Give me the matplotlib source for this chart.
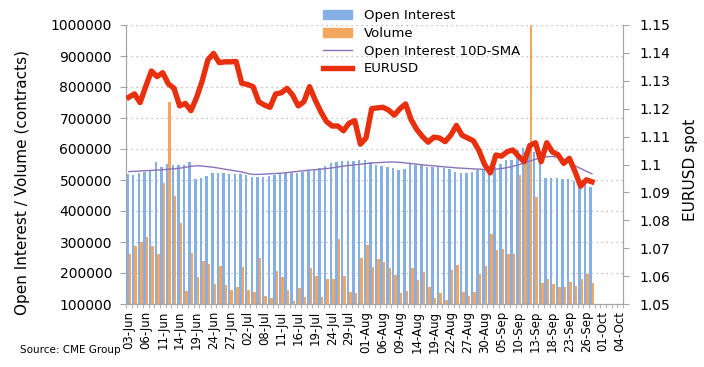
import matplotlib
matplotlib.use("Agg")
import matplotlib.pyplot as plt
from matplotlib.patches import Patch
from matplotlib.lines import Line2D
from matplotlib.ticker import FuncFormatter, MultipleLocator
import numpy as np

# business days 03-Jun .. 04-Oct (88 slots), data only up to 27-Sep
n_days = 88
tick_labels = ["03-Jun", "06-Jun", "11-Jun", "14-Jun", "19-Jun", "24-Jun", "27-Jun",
               "02-Jul", "08-Jul", "11-Jul", "16-Jul", "19-Jul", "24-Jul", "29-Jul",
               "01-Aug", "06-Aug", "09-Aug", "14-Aug", "19-Aug", "22-Aug", "27-Aug",
               "30-Aug", "05-Sep", "10-Sep", "13-Sep", "18-Sep", "23-Sep", "26-Sep",
               "01-Oct", "04-Oct"]

open_interest = [518000, 516000, 521000, 525000, 532000, 559000, 543000, 552000, 548000, 550000,
                 548000, 559000, 502000, 505000, 513000, 521000, 521000, 521000, 519000, 519000,
                 519000, 516000, 511000, 511000, 511000, 513000, 516000, 521000, 521000, 521000,
                 521000, 527000, 530000, 532000, 540000, 545000, 555000, 557000, 560000, 562000,
                 562000, 566000, 566000, 559000, 548000, 545000, 541000, 538000, 532000, 535000,
                 552000, 549000, 549000, 543000, 543000, 543000, 538000, 535000, 527000, 524000,
                 524000, 527000, 532000, 532000, 538000, 543000, 552000, 565000, 565000, 598000,
                 603000, 600000, 590000, 580000, 505000, 505000, 508000, 502000, 502000, 498000,
                 490000, 490000, 478000]

volume = [261000, 288000, 301000, 315000, 288000, 261000, 489000, 753000, 448000, 360000,
          143000, 263000, 186000, 240000, 229000, 163000, 222000, 160000, 146000, 156000,
          220000, 145000, 140000, 247000, 126000, 118000, 207000, 186000, 145000, 111000,
          153000, 122000, 215000, 190000, 124000, 180000, 180000, 311000, 190000, 140000,
          137000, 247000, 290000, 220000, 244000, 237000, 217000, 194000, 134000, 142000,
          215000, 177000, 204000, 154000, 118000, 134000, 113000, 210000, 226000, 140000,
          126000, 140000, 196000, 224000, 325000, 275000, 276000, 262000, 262000, 515000,
          590000, 1000000, 444000, 169000, 180000, 165000, 156000, 156000, 170000, 159000,
          180000, 196000, 167000]

oi_sma = [527000, 528000, 529000, 530000, 531000, 532000, 533000, 535000, 536000, 538000,
          541000, 544000, 546000, 545000, 543000, 541000, 538000, 535000, 532000, 529000,
          526000, 521000, 518000, 518000, 519000, 520000, 521000, 522000, 524000, 526000,
          528000, 530000, 532000, 533000, 535000, 537000, 539000, 542000, 545000, 547000,
          549000, 551000, 553000, 555000, 556000, 557000, 558000, 558000, 557000, 555000,
          553000, 551000, 549000, 547000, 546000, 544000, 542000, 541000, 539000, 538000,
          537000, 536000, 535000, 534000, 534000, 535000, 537000, 540000, 544000, 549000,
          555000, 561000, 567000, 572000, 575000, 576000, 573000, 566000, 557000, 546000,
          537000, 528000, 520000]

eurusd = [1.1241, 1.1253, 1.1222, 1.1280, 1.1335, 1.1315, 1.1329, 1.1289, 1.1273, 1.1210,
          1.1219, 1.1193, 1.1240, 1.1300, 1.1375, 1.1398, 1.1365, 1.1368, 1.1368, 1.1369,
          1.1291, 1.1287, 1.1279, 1.1225, 1.1213, 1.1205, 1.1253, 1.1257, 1.1273, 1.1249,
          1.1210, 1.1225, 1.1279, 1.1231, 1.1189, 1.1154, 1.1138, 1.1138, 1.1121, 1.1148,
          1.1157, 1.1073, 1.1095, 1.1200, 1.1203, 1.1205, 1.1195, 1.1177, 1.1200, 1.1217,
          1.1160, 1.1125, 1.1100, 1.1080, 1.1098, 1.1095, 1.1082, 1.1105, 1.1140, 1.1105,
          1.1095, 1.1085, 1.1050, 1.1000, 1.0970, 1.1034, 1.1030, 1.1046, 1.1052, 1.1030,
          1.1010, 1.1068, 1.1078, 1.1010, 1.1078, 1.1045, 1.1035, 1.1004, 1.1022, 1.0975,
          1.0922, 1.0945, 1.0938]

blue = "#86afe6"
orange = "#f2a65e"
purple = "#8b72b8"
red = "#e8300e"
grey = "#a6a6a6"

fig = plt.figure(figsize=(7.04, 3.67), dpi=100)
ax = fig.add_axes([126 / 704, 1 - 304 / 367, 497 / 704, 279 / 367])
ax2 = ax.twinx()

x = np.arange(len(open_interest))
w = 0.44
ax.bar(x - w / 2, open_interest, width=w, color=blue, zorder=2)
ax.bar(x + w / 2, volume, width=w, color=orange, zorder=3)
ax.plot(x, oi_sma, color=purple, lw=1.0, zorder=4)
ax2.plot(x, eurusd, color=red, lw=3.9, solid_joinstyle="round", zorder=5)

ax.set_xlim(-0.5, n_days - 0.5)
ax.set_ylim(100000, 1000000)
ax.yaxis.set_major_locator(MultipleLocator(100000))
ax.yaxis.set_major_formatter(FuncFormatter(lambda v, p: "%d" % v))
ax.grid(axis="y", linestyle=(0, (1, 3)), color="#b0b0b0", lw=0.9, zorder=0)
ax.set_axisbelow(True)

ax2.set_ylim(1.05, 1.15)
ax2.yaxis.set_major_locator(MultipleLocator(0.01))
ax2.yaxis.set_major_formatter(FuncFormatter(lambda v, p: "%g" % round(v, 2)))

ax.set_xticks(np.arange(0, n_days, 3))
ax.set_xticklabels(tick_labels, rotation=90, fontsize=8.5)
ax.set_xticks(np.arange(-0.5, n_days, 1), minor=True)
ax.tick_params(axis="x", which="major", length=0, pad=5)
ax.tick_params(axis="x", which="minor", length=3, color=grey)
ax.tick_params(axis="y", labelsize=10, length=4, color=grey, pad=6)
ax2.tick_params(axis="y", labelsize=10, length=4, color=grey, pad=8)

for a in (ax, ax2):
    a.spines["top"].set_visible(False)
    for s in ("left", "right", "bottom"):
        a.spines[s].set_color(grey)

ax.set_ylabel("Open Interest / Volume (contracts)", fontsize=11)
ax.yaxis.set_label_coords(-0.193, 0.434)
ax2.set_ylabel("EURUSD spot", fontsize=11)
ax2.yaxis.set_label_coords(1.121, 0.482)

handles = [Patch(color=blue), Patch(color=orange),
           Line2D([], [], color=purple, lw=1.0), Line2D([], [], color=red, lw=3.9)]
names = ["Open Interest", "Volume", "Open Interest 10D-SMA", "EURUSD"]
fig.legend(handles, names, loc="upper left", bbox_to_anchor=(318 / 704, 1 - 4 / 367),
           frameon=False, fontsize=9.5, labelspacing=0.35, handlelength=2.2,
           handletextpad=0.9, borderaxespad=0)

fig.text(20 / 704, 1 - 350 / 367, "Source: CME Group", fontsize=7.5, va="center")

fig.savefig("out.png", dpi=100)
